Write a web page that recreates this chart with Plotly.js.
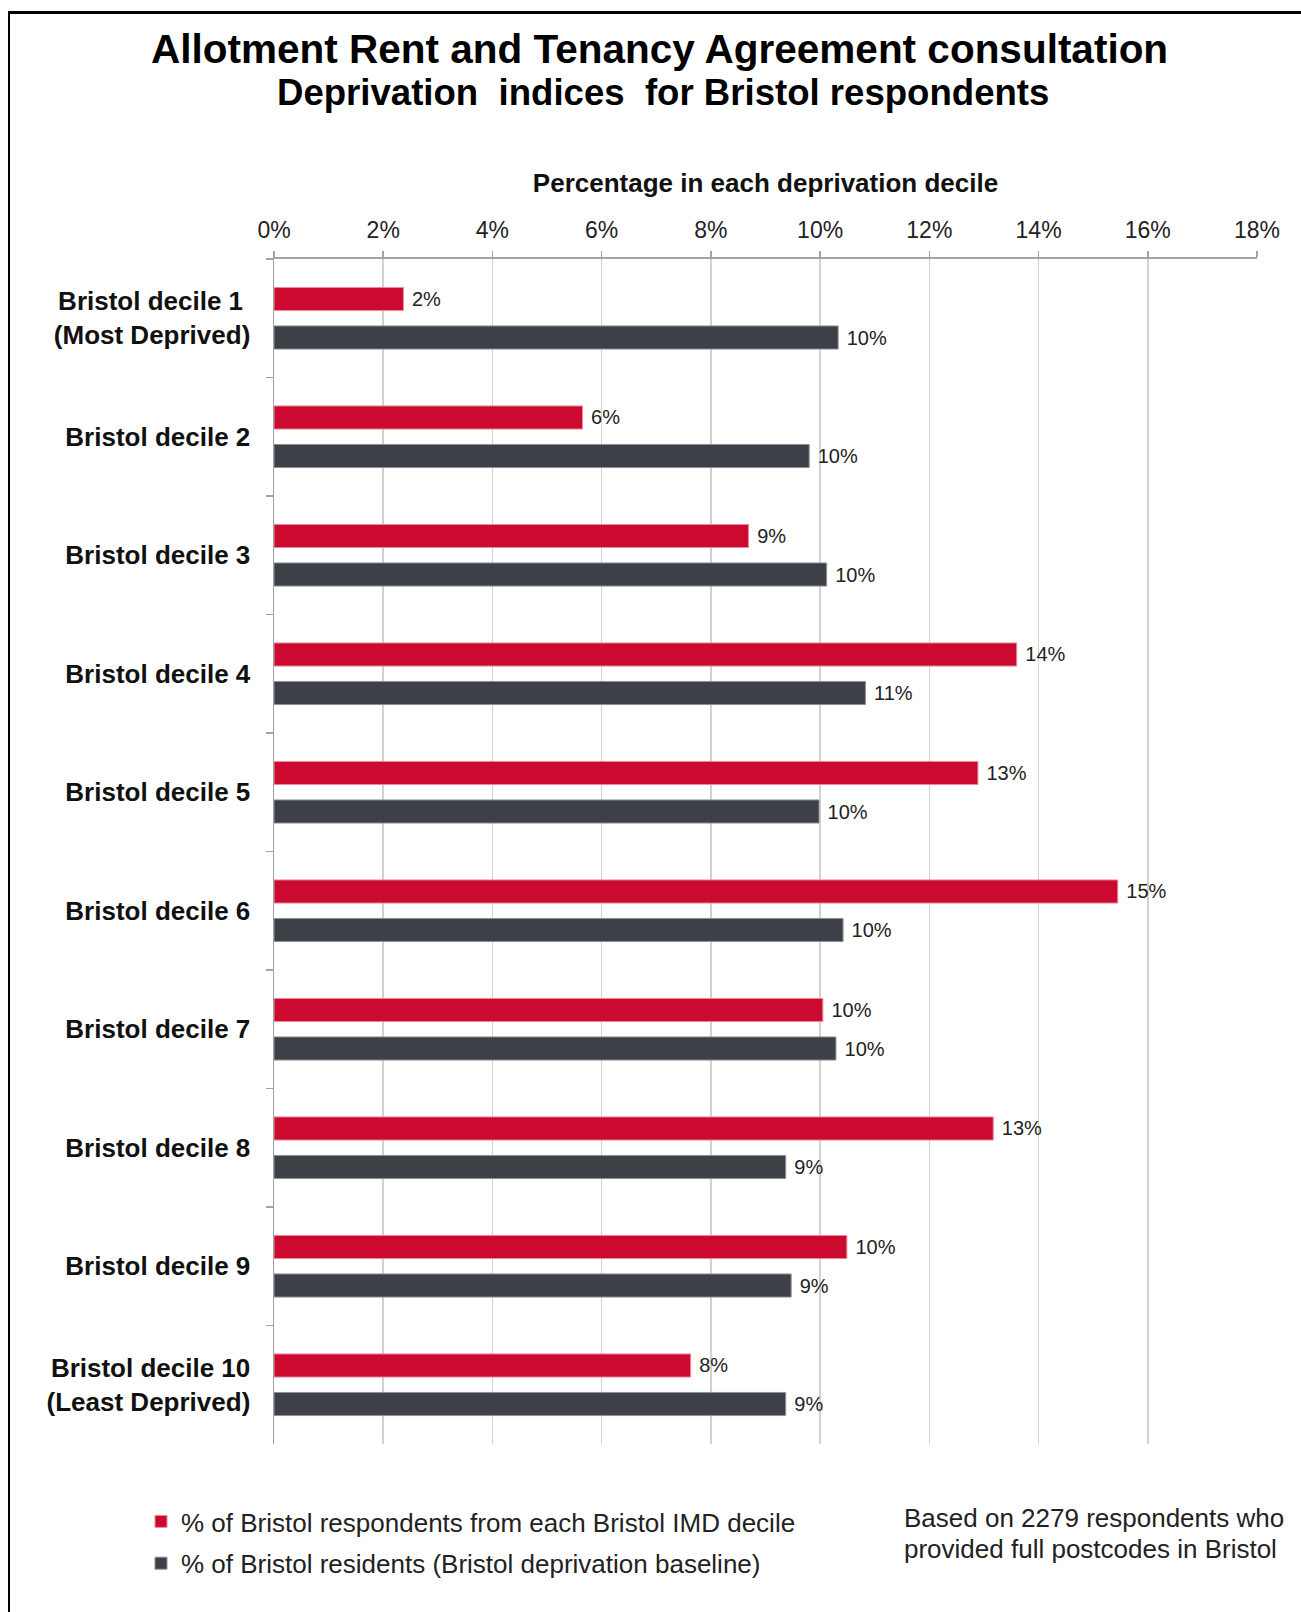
<!DOCTYPE html>
<html><head><meta charset="utf-8">
<script src="https://cdn.plot.ly/plotly-3.0.1.min.js"></script>
<style>
html,body{margin:0;padding:0;background:#fff;}
#wrap{position:relative;width:1301px;height:1612px;overflow:hidden;}
#chart{width:1301px;height:1612px;}
#frame{position:absolute;left:8px;top:11px;right:-10px;bottom:-10px;border-top:3px solid #000;border-left:2px solid #000;pointer-events:none;}
</style>
</head><body><div id="wrap"><div id="chart"></div><div id="frame"></div></div>
<script>
const categories = [
  "Bristol decile 1\u00A0<br>(Most Deprived)",
  "Bristol decile 2",
  "Bristol decile 3",
  "Bristol decile 4",
  "Bristol decile 5",
  "Bristol decile 6",
  "Bristol decile 7",
  "Bristol decile 8",
  "Bristol decile 9",
  "Bristol decile 10<br>(Least Deprived)"
];
const respondentsPct = [2.37, 5.65, 8.69, 13.60, 12.89, 15.45, 10.05, 13.17, 10.49, 7.63];
const residentsPct   = [10.33, 9.80, 10.12, 10.83, 9.98, 10.42, 10.29, 9.37, 9.47, 9.37];
const xTickVals = [0, 2, 4, 6, 8, 10, 12, 14, 16, 18];
const xTickText = ["0%", "2%", "4%", "6%", "8%", "10%", "12%", "14%", "16%", "18%"];
const seriesNames = [
  "% of Bristol respondents from each Bristol IMD decile",
  "% of Bristol residents (Bristol deprivation baseline)"
];
const titleLine1 = "Allotment Rent and Tenancy Agreement consultation";
const titleLine2 = "Deprivation  indices  for Bristol respondents";
const axisTitle = "Percentage in each deprivation decile";
const noteLines = ["Based on 2279 respondents who", "provided full postcodes in Bristol"];

const FONT = "Liberation Sans, Arial, Helvetica, sans-serif";
const W = 1301, H = 1612;
const ML = 274, MR = 44, MT = 259, MB = 168;
const plotW = W - ML - MR, plotH = H - MT - MB;
const px = x => (x - ML) / plotW;
const py = y => (H - MB - y) / plotH;

const common = {
  type: 'bar', orientation: 'h', y: categories,
  textposition: 'outside', texttemplate: '\u00A0%{x:.0f}%',
  textfont: {family: FONT, size: 20, color: '#222'},
  constraintext: 'none', cliponaxis: false, hoverinfo: 'skip'
};
const traces = [
  Object.assign({}, common, {
    name: seriesNames[0], x: respondentsPct, legendgroup: 'g1',
    marker: {color: '#CC0A2F', line: {color: '#E98A9C', width: 1}}
  }),
  Object.assign({}, common, {
    name: seriesNames[1], x: residentsPct, legendgroup: 'g2',
    marker: {color: '#3D4047', line: {color: '#8E9197', width: 1}}
  })
];

const layout = {
  width: W, height: H,
  margin: {l: ML, r: MR, t: MT, b: MB, autoexpand: false},
  paper_bgcolor: '#fff', plot_bgcolor: '#fff',
  font: {family: FONT, color: '#111'},
  barmode: 'group', bargap: 0.35, bargroupgap: 0.40,
  showlegend: true,
  legend: {
    xref: 'container', yref: 'container',
    x: 141 / W, y: 1 - 1498 / H, xanchor: 'left', yanchor: 'top',
    font: {family: FONT, size: 26, color: '#222'},
    traceorder: 'grouped', tracegroupgap: 5, bgcolor: 'rgba(0,0,0,0)'
  },
  xaxis: {
    side: 'top', range: [0, 18], tickmode: 'array', tickvals: xTickVals, ticktext: xTickText,
    tickfont: {family: FONT, size: 23, color: '#222'}, ticklabelstandoff: 4,
    showgrid: true, gridcolor: '#d2d2d2', gridwidth: 1.5,
    showline: true, linecolor: '#a3a3a3', linewidth: 2,
    ticks: 'outside', ticklen: 6, tickcolor: '#a3a3a3', tickwidth: 1.5,
    zeroline: false, fixedrange: true, automargin: false,
    title: {text: axisTitle, font: {family: FONT, size: 26, weight: 700, color: '#111'}, standoff: 17}
  },
  yaxis: {
    type: 'category', autorange: 'reversed',
    tickson: 'boundaries', ticks: 'outside', ticklen: 7, tickcolor: '#a3a3a3', tickwidth: 1.5,
    showline: true, linecolor: '#a3a3a3', linewidth: 1.5, showgrid: false, zeroline: false,
    tickfont: {family: FONT, size: 26, weight: 700, color: '#111'},
    ticklabelstandoff: 17, fixedrange: true, automargin: false
  },
  annotations: [
    {text: titleLine1, xref: 'paper', yref: 'paper', x: px(659), y: py(49), xanchor: 'center', yanchor: 'middle',
     showarrow: false, font: {family: FONT, size: 40.5, weight: 700, color: '#000'}},
    {text: titleLine2.replace(/  /g, ' \u00A0'), xref: 'paper', yref: 'paper', x: px(663), y: py(92), xanchor: 'center', yanchor: 'middle',
     showarrow: false, font: {family: FONT, size: 36.6, weight: 700, color: '#000'}},
    {text: noteLines[0], xref: 'paper', yref: 'paper', x: px(902), y: py(1518), xanchor: 'left', yanchor: 'middle',
     showarrow: false, font: {family: FONT, size: 26, color: '#222'}},
    {text: noteLines[1], xref: 'paper', yref: 'paper', x: px(902), y: py(1549), xanchor: 'left', yanchor: 'middle',
     showarrow: false, font: {family: FONT, size: 26, color: '#222'}}
  ]
};

Plotly.newPlot('chart', traces, layout, {staticPlot: true, displayModeBar: false});
</script>
</body></html>
